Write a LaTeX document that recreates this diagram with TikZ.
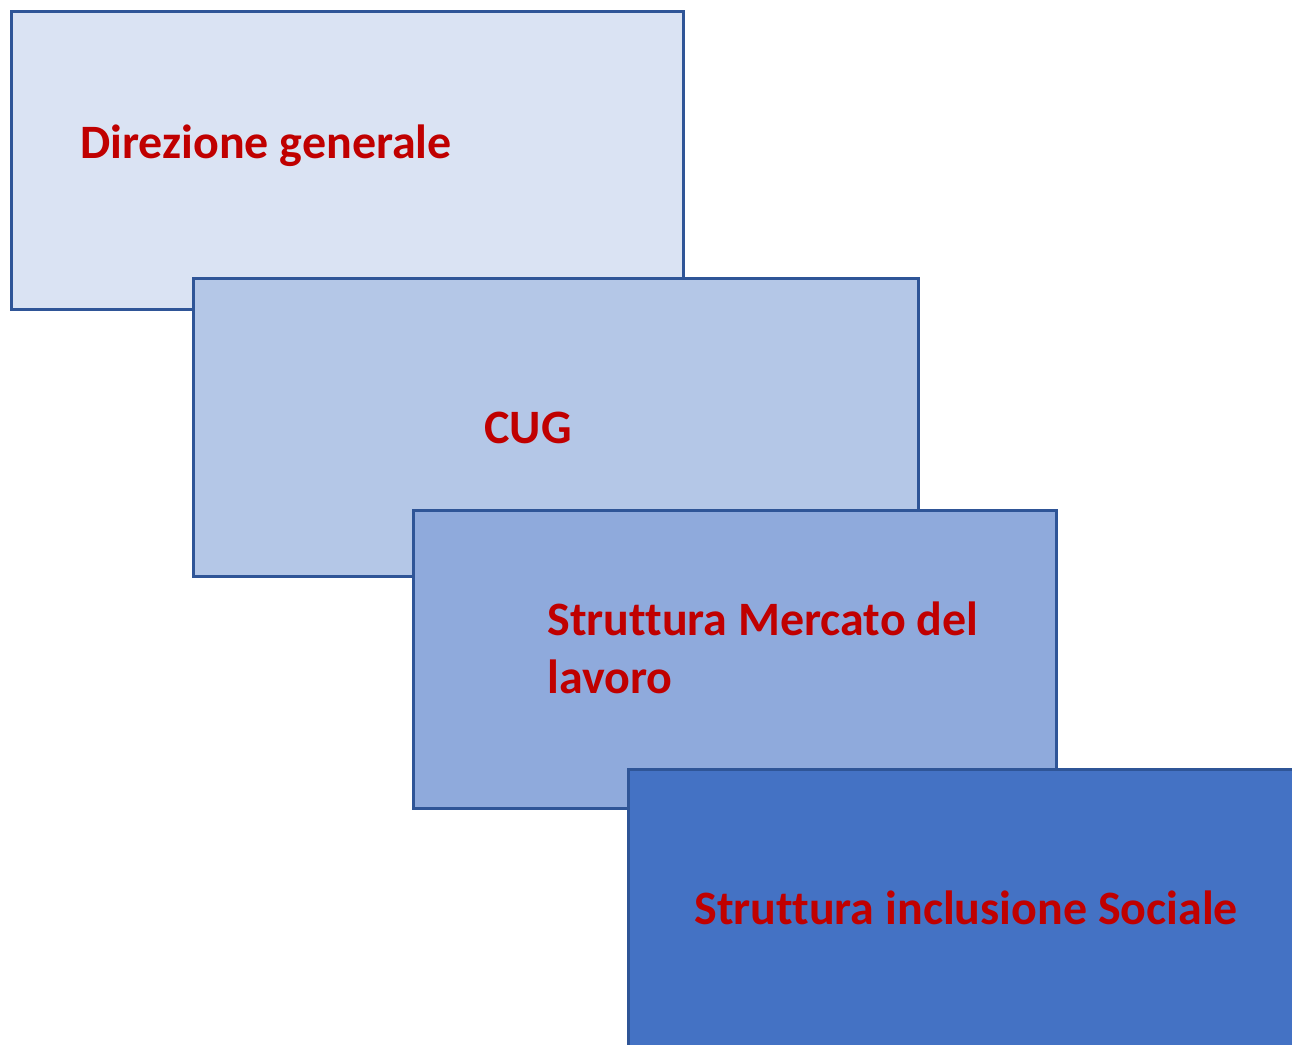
\documentclass[tikz,border=0pt]{standalone}
\usepackage{fontspec}
\setmainfont{Carlito}[Ligatures=NoCommon]
\usetikzlibrary{positioning}
\definecolor{edgeblue}{HTML}{2F5597}
\definecolor{fillA}{HTML}{DAE3F3}
\definecolor{fillB}{HTML}{B4C7E7}
\definecolor{fillC}{HTML}{8FAADC}
\definecolor{fillD}{HTML}{4472C4}
\definecolor{labelred}{HTML}{C00000}

\begin{document}
\begin{tikzpicture}[
  x=0.02cm, y=-0.02cm,
  cardbox/.style={draw=edgeblue,line width=1.5pt,rectangle,anchor=north west,
    inner sep=0pt,minimum height=5.96cm},
  cardlabel/.style={anchor=base west,inner sep=0pt,align=left,text=labelred,
    font=\fontsize{27.3}{33}\selectfont\bfseries}
]
\useasboundingbox (0,0) rectangle (1292,1045);
\clip (0,0) rectangle (1292,1045);
\node[cardbox,fill=fillA,minimum width=13.44cm] (dir) at (10,10) {};
\node[cardbox,fill=fillB,minimum width=14.5cm] (cug) at (192,277) {};
\node[cardbox,fill=fillC,minimum width=12.86cm] (mdl) at (412,509) {};
\node[cardbox,fill=fillD,minimum width=14cm] (soc) at (627,768) {};
\node[cardlabel] (dirtext) at (80,158) {Direzione generale};
\node[cardlabel] (cugtext) at (484,443) {CUG};
\node[cardlabel] (mdltext) at (547,693) {Struttura Mercato del\\lavoro};
\node[cardlabel] (soctext) at (694,924) {Struttura inclusione Sociale};
\end{tikzpicture}
\end{document}
